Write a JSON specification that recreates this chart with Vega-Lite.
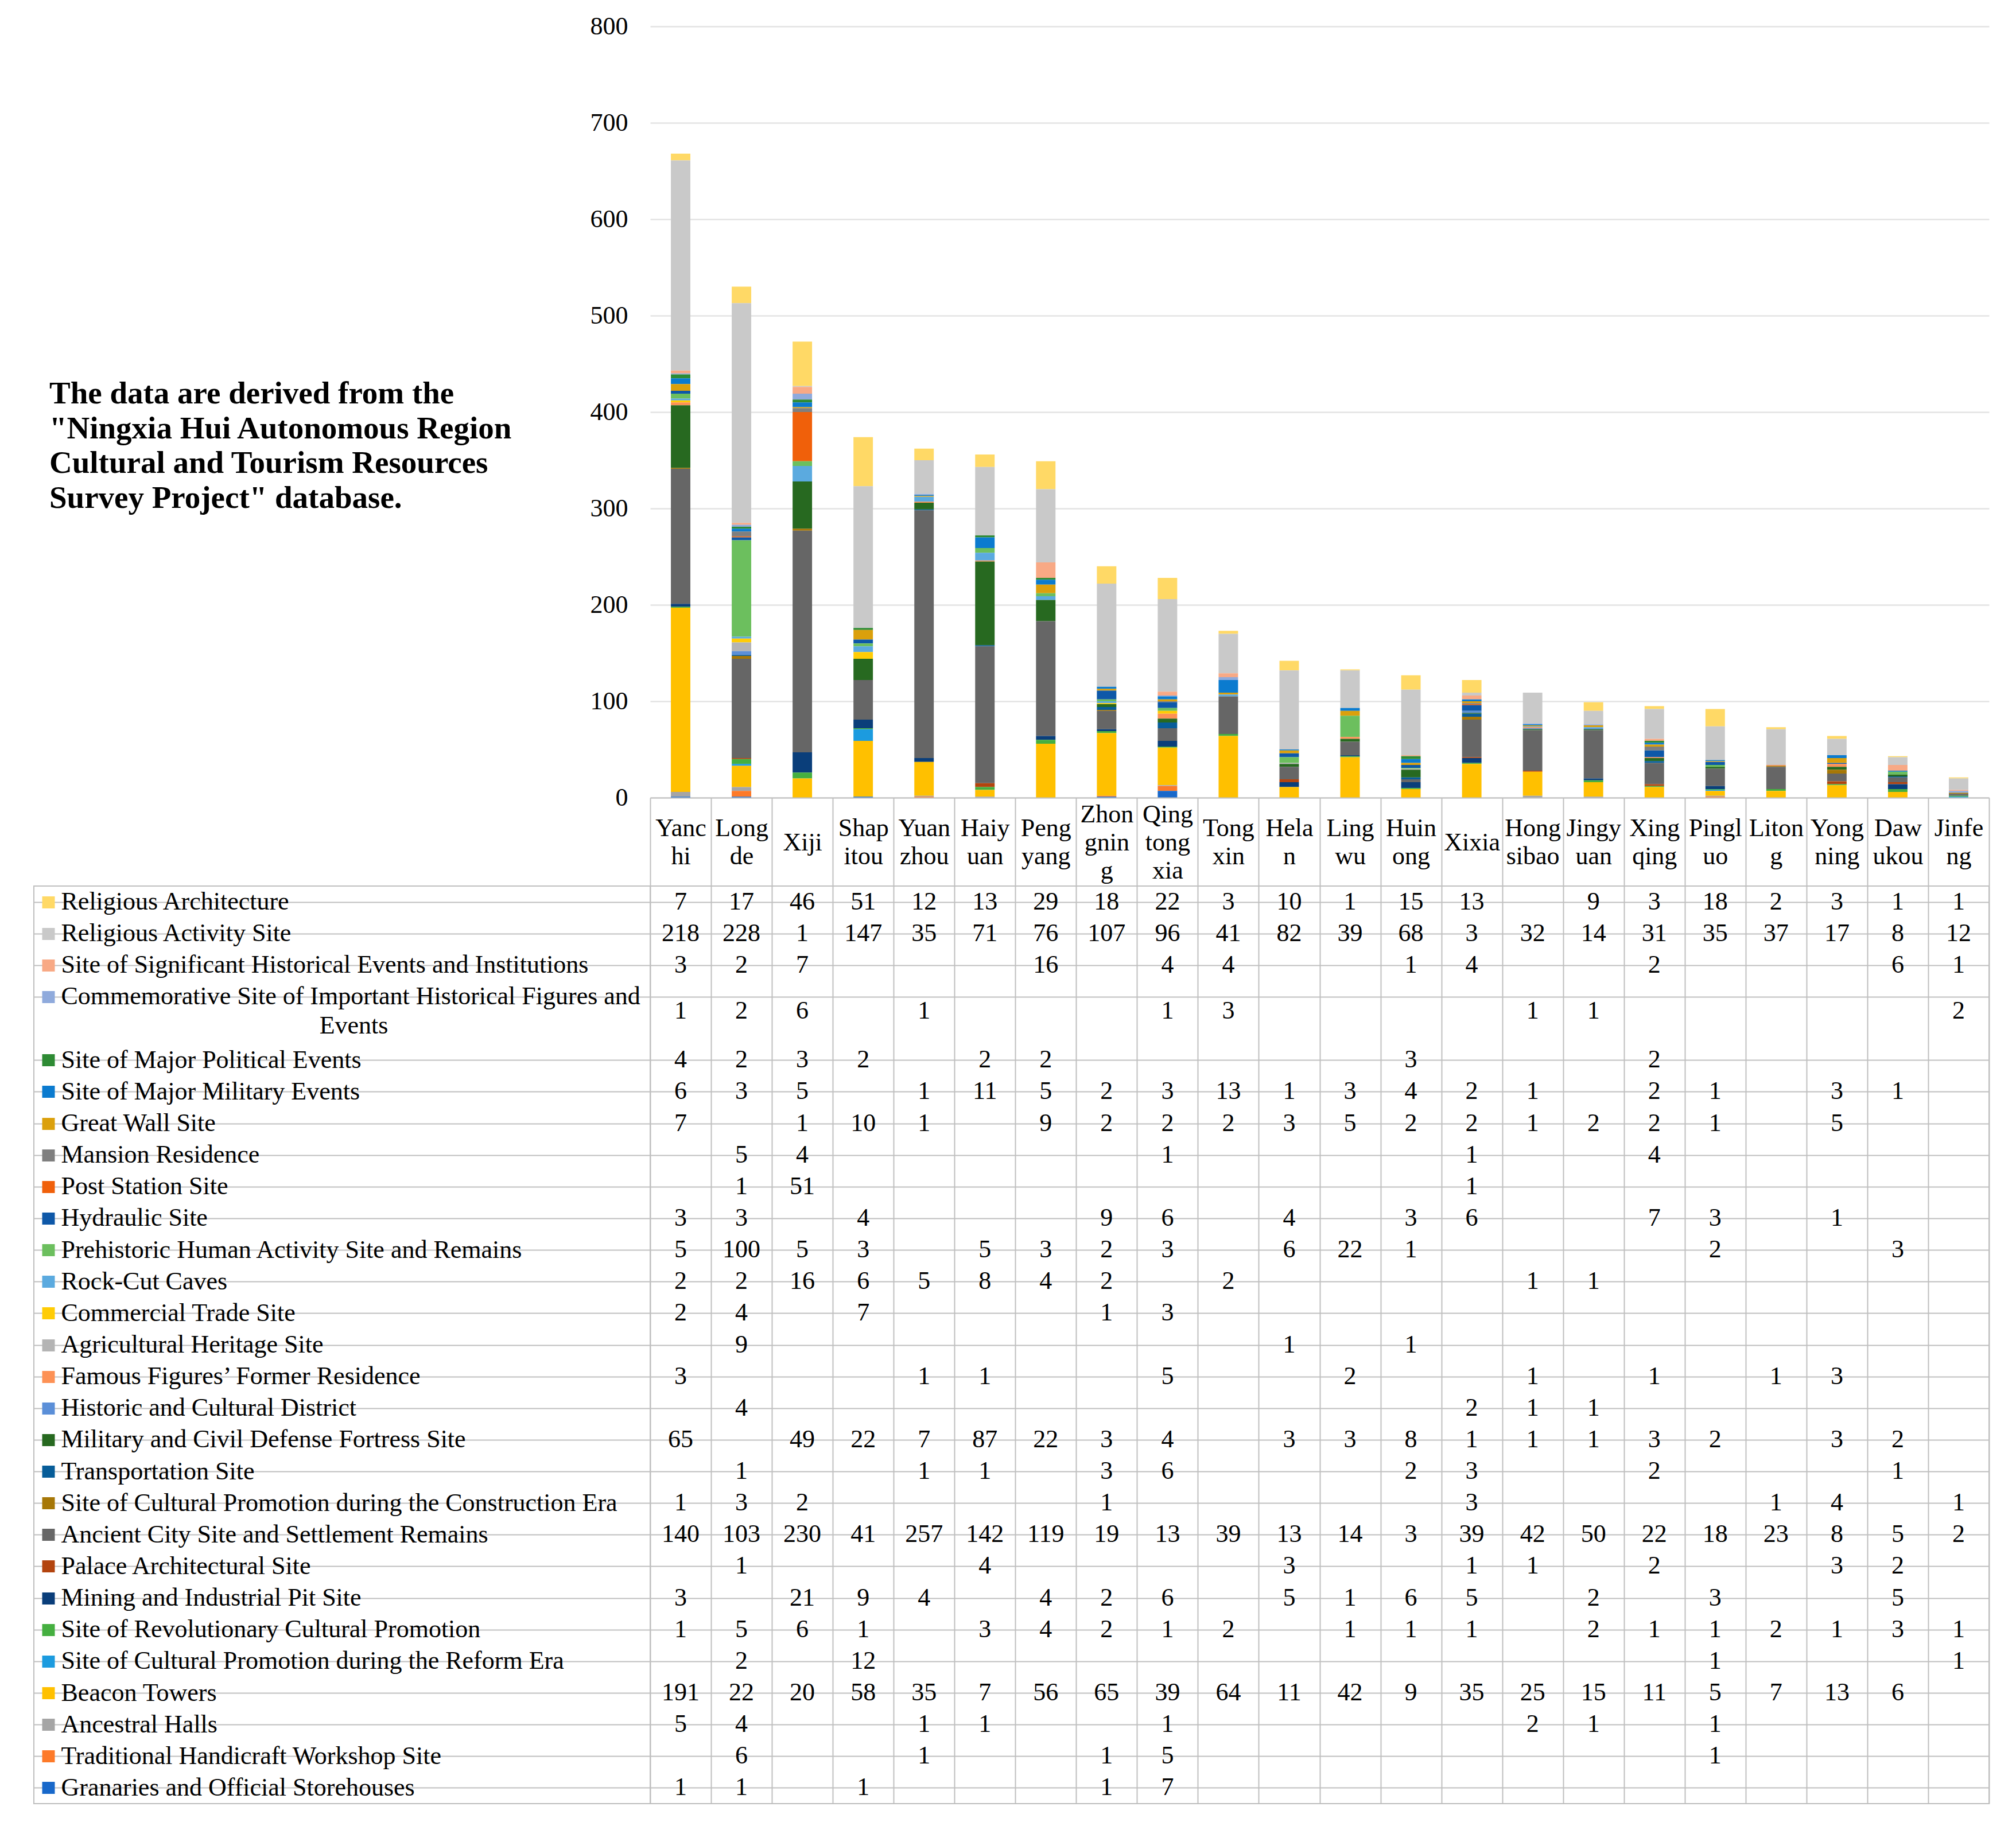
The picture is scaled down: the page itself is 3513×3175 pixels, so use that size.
{
  "$schema": "https://vega.github.io/schema/vega-lite/v6.json",
  "padding": {"left": 58, "top": 24, "right": 20, "bottom": 20},
  "background": "white",
  "bounds": "flush",
  "columns": 2,
  "spacing": {"row": 154, "column": 0},
  "datasets": {
    "table": [
      {"category": "Religious Architecture", "Yanchi": 7, "Longde": 17, "Xiji": 46, "Shapitou": 51, "Yuanzhou": 12, "Haiyuan": 13, "Pengyang": 29, "Zhongning": 18, "Qingtongxia": 22, "Tongxin": 3, "Helan": 10, "Lingwu": 1, "Huinong": 15, "Xixia": 13, "Jingyuan": 9, "Xingqing": 3, "Pingluo": 18, "Litong": 2, "Yongning": 3, "Dawukou": 1, "Jinfeng": 1},
      {"category": "Religious Activity Site", "Yanchi": 218, "Longde": 228, "Xiji": 1, "Shapitou": 147, "Yuanzhou": 35, "Haiyuan": 71, "Pengyang": 76, "Zhongning": 107, "Qingtongxia": 96, "Tongxin": 41, "Helan": 82, "Lingwu": 39, "Huinong": 68, "Xixia": 3, "Hongsibao": 32, "Jingyuan": 14, "Xingqing": 31, "Pingluo": 35, "Litong": 37, "Yongning": 17, "Dawukou": 8, "Jinfeng": 12},
      {"category": "Site of Significant Historical Events and Institutions", "Yanchi": 3, "Longde": 2, "Xiji": 7, "Pengyang": 16, "Qingtongxia": 4, "Tongxin": 4, "Huinong": 1, "Xixia": 4, "Xingqing": 2, "Dawukou": 6, "Jinfeng": 1},
      {"category": "Commemorative Site of Important Historical Figures and Events", "Yanchi": 1, "Longde": 2, "Xiji": 6, "Yuanzhou": 1, "Qingtongxia": 1, "Tongxin": 3, "Hongsibao": 1, "Jingyuan": 1, "Jinfeng": 2},
      {"category": "Site of Major Political Events", "Yanchi": 4, "Longde": 2, "Xiji": 3, "Shapitou": 2, "Haiyuan": 2, "Pengyang": 2, "Huinong": 3, "Xingqing": 2},
      {"category": "Site of Major Military Events", "Yanchi": 6, "Longde": 3, "Xiji": 5, "Yuanzhou": 1, "Haiyuan": 11, "Pengyang": 5, "Zhongning": 2, "Qingtongxia": 3, "Tongxin": 13, "Helan": 1, "Lingwu": 3, "Huinong": 4, "Xixia": 2, "Hongsibao": 1, "Xingqing": 2, "Pingluo": 1, "Yongning": 3, "Dawukou": 1},
      {"category": "Great Wall Site", "Yanchi": 7, "Xiji": 1, "Shapitou": 10, "Yuanzhou": 1, "Pengyang": 9, "Zhongning": 2, "Qingtongxia": 2, "Tongxin": 2, "Helan": 3, "Lingwu": 5, "Huinong": 2, "Xixia": 2, "Hongsibao": 1, "Jingyuan": 2, "Xingqing": 2, "Pingluo": 1, "Yongning": 5},
      {"category": "Mansion Residence", "Longde": 5, "Xiji": 4, "Qingtongxia": 1, "Xixia": 1, "Xingqing": 4},
      {"category": "Post Station Site", "Longde": 1, "Xiji": 51, "Xixia": 1},
      {"category": "Hydraulic Site", "Yanchi": 3, "Longde": 3, "Shapitou": 4, "Zhongning": 9, "Qingtongxia": 6, "Helan": 4, "Huinong": 3, "Xixia": 6, "Xingqing": 7, "Pingluo": 3, "Yongning": 1},
      {"category": "Prehistoric Human Activity Site and Remains", "Yanchi": 5, "Longde": 100, "Xiji": 5, "Shapitou": 3, "Haiyuan": 5, "Pengyang": 3, "Zhongning": 2, "Qingtongxia": 3, "Helan": 6, "Lingwu": 22, "Huinong": 1, "Pingluo": 2, "Dawukou": 3},
      {"category": "Rock-Cut Caves", "Yanchi": 2, "Longde": 2, "Xiji": 16, "Shapitou": 6, "Yuanzhou": 5, "Haiyuan": 8, "Pengyang": 4, "Zhongning": 2, "Tongxin": 2, "Hongsibao": 1, "Jingyuan": 1},
      {"category": "Commercial Trade Site", "Yanchi": 2, "Longde": 4, "Shapitou": 7, "Zhongning": 1, "Qingtongxia": 3},
      {"category": "Agricultural Heritage Site", "Longde": 9, "Helan": 1, "Huinong": 1},
      {"category": "Famous Figures’ Former Residence", "Yanchi": 3, "Yuanzhou": 1, "Haiyuan": 1, "Qingtongxia": 5, "Lingwu": 2, "Hongsibao": 1, "Xingqing": 1, "Litong": 1, "Yongning": 3},
      {"category": "Historic and Cultural District", "Longde": 4, "Xixia": 2, "Hongsibao": 1, "Jingyuan": 1},
      {"category": "Military and Civil Defense Fortress Site", "Yanchi": 65, "Xiji": 49, "Shapitou": 22, "Yuanzhou": 7, "Haiyuan": 87, "Pengyang": 22, "Zhongning": 3, "Qingtongxia": 4, "Helan": 3, "Lingwu": 3, "Huinong": 8, "Xixia": 1, "Hongsibao": 1, "Jingyuan": 1, "Xingqing": 3, "Pingluo": 2, "Yongning": 3, "Dawukou": 2},
      {"category": "Transportation Site", "Longde": 1, "Yuanzhou": 1, "Haiyuan": 1, "Zhongning": 3, "Qingtongxia": 6, "Huinong": 2, "Xixia": 3, "Xingqing": 2, "Dawukou": 1},
      {"category": "Site of Cultural Promotion during the Construction Era", "Yanchi": 1, "Longde": 3, "Xiji": 2, "Zhongning": 1, "Xixia": 3, "Litong": 1, "Yongning": 4, "Jinfeng": 1},
      {"category": "Ancient City Site and Settlement Remains", "Yanchi": 140, "Longde": 103, "Xiji": 230, "Shapitou": 41, "Yuanzhou": 257, "Haiyuan": 142, "Pengyang": 119, "Zhongning": 19, "Qingtongxia": 13, "Tongxin": 39, "Helan": 13, "Lingwu": 14, "Huinong": 3, "Xixia": 39, "Hongsibao": 42, "Jingyuan": 50, "Xingqing": 22, "Pingluo": 18, "Litong": 23, "Yongning": 8, "Dawukou": 5, "Jinfeng": 2},
      {"category": "Palace Architectural Site", "Longde": 1, "Haiyuan": 4, "Helan": 3, "Xixia": 1, "Hongsibao": 1, "Xingqing": 2, "Yongning": 3, "Dawukou": 2},
      {"category": "Mining and Industrial Pit Site", "Yanchi": 3, "Xiji": 21, "Shapitou": 9, "Yuanzhou": 4, "Pengyang": 4, "Zhongning": 2, "Qingtongxia": 6, "Helan": 5, "Lingwu": 1, "Huinong": 6, "Xixia": 5, "Jingyuan": 2, "Pingluo": 3, "Dawukou": 5},
      {"category": "Site of Revolutionary Cultural Promotion", "Yanchi": 1, "Longde": 5, "Xiji": 6, "Shapitou": 1, "Haiyuan": 3, "Pengyang": 4, "Zhongning": 2, "Qingtongxia": 1, "Tongxin": 2, "Lingwu": 1, "Huinong": 1, "Xixia": 1, "Jingyuan": 2, "Xingqing": 1, "Pingluo": 1, "Litong": 2, "Yongning": 1, "Dawukou": 3, "Jinfeng": 1},
      {"category": "Site of Cultural Promotion during the Reform Era", "Longde": 2, "Shapitou": 12, "Pingluo": 1, "Jinfeng": 1},
      {"category": "Beacon Towers", "Yanchi": 191, "Longde": 22, "Xiji": 20, "Shapitou": 58, "Yuanzhou": 35, "Haiyuan": 7, "Pengyang": 56, "Zhongning": 65, "Qingtongxia": 39, "Tongxin": 64, "Helan": 11, "Lingwu": 42, "Huinong": 9, "Xixia": 35, "Hongsibao": 25, "Jingyuan": 15, "Xingqing": 11, "Pingluo": 5, "Litong": 7, "Yongning": 13, "Dawukou": 6},
      {"category": "Ancestral Halls", "Yanchi": 5, "Longde": 4, "Yuanzhou": 1, "Haiyuan": 1, "Qingtongxia": 1, "Hongsibao": 2, "Jingyuan": 1, "Pingluo": 1},
      {"category": "Traditional Handicraft Workshop Site", "Longde": 6, "Yuanzhou": 1, "Zhongning": 1, "Qingtongxia": 5, "Pingluo": 1},
      {"category": "Granaries and Official Storehouses", "Yanchi": 1, "Longde": 1, "Shapitou": 1, "Zhongning": 1, "Qingtongxia": 7}
    ]
  },
  "concat": [
    {
      "width": 1074,
      "height": 614,
      "data": {"values": [{"note": ""}]},
      "mark": {"type": "text"},
      "encoding": {"text": {"field": "note", "type": "nominal"}},
      "title": {
        "text": ["The data are derived from the", "\"Ningxia Hui Autonomous Region", "Cultural and Tourism Resources", "Survey Project\" database."],
        "orient": "bottom",
        "anchor": "start",
        "frame": "group",
        "align": "left",
        "baseline": "top",
        "offset": 0,
        "dx": 27,
        "font": "Liberation Serif",
        "fontSize": 55,
        "fontWeight": "bold",
        "color": "black",
        "lineHeight": 60.5
      }
    },
    {
      "width": 2333,
      "height": 1344,
      "data": {"name": "table"},
      "transform": [
        {"fold": ["Yanchi", "Longde", "Xiji", "Shapitou", "Yuanzhou", "Haiyuan", "Pengyang", "Zhongning", "Qingtongxia", "Tongxin", "Helan", "Lingwu", "Huinong", "Xixia", "Hongsibao", "Jingyuan", "Xingqing", "Pingluo", "Litong", "Yongning", "Dawukou", "Jinfeng"], "as": ["county", "value"]},
        {"filter": "isValid(datum.value)"},
        {"window": [{"op": "row_number", "as": "rank"}], "groupby": ["county"]}
      ],
      "mark": {"type": "bar"},
      "encoding": {
        "x": {
          "field": "county", "type": "nominal",
          "scale": {"domain": ["Yanchi", "Longde", "Xiji", "Shapitou", "Yuanzhou", "Haiyuan", "Pengyang", "Zhongning", "Qingtongxia", "Tongxin", "Helan", "Lingwu", "Huinong", "Xixia", "Hongsibao", "Jingyuan", "Xingqing", "Pingluo", "Litong", "Yongning", "Dawukou", "Jinfeng"], "paddingInner": 0.68, "paddingOuter": 0.34},
          "axis": {"title": null, "labels": false, "ticks": false, "domain": true, "domainColor": "#BFBFBF", "domainWidth": 2, "grid": false, "zindex": 2}
        },
        "y": {
          "field": "value", "type": "quantitative", "stack": "zero",
          "scale": {"domain": [0, 800], "nice": false},
          "axis": {"title": null, "values": [0, 100, 200, 300, 400, 500, 600, 700, 800], "domain": false, "ticks": false, "grid": true, "gridColor": "#E3E3E3", "gridWidth": 2.5, "labelFont": "Liberation Serif", "labelFontSize": 44, "labelColor": "black", "labelPadding": 39}
        },
        "color": {
          "field": "category", "type": "nominal", "legend": null,
          "scale": {
            "domain": ["Religious Architecture", "Religious Activity Site", "Site of Significant Historical Events and Institutions", "Commemorative Site of Important Historical Figures and Events", "Site of Major Political Events", "Site of Major Military Events", "Great Wall Site", "Mansion Residence", "Post Station Site", "Hydraulic Site", "Prehistoric Human Activity Site and Remains", "Rock-Cut Caves", "Commercial Trade Site", "Agricultural Heritage Site", "Famous Figures’ Former Residence", "Historic and Cultural District", "Military and Civil Defense Fortress Site", "Transportation Site", "Site of Cultural Promotion during the Construction Era", "Ancient City Site and Settlement Remains", "Palace Architectural Site", "Mining and Industrial Pit Site", "Site of Revolutionary Cultural Promotion", "Site of Cultural Promotion during the Reform Era", "Beacon Towers", "Ancestral Halls", "Traditional Handicraft Workshop Site", "Granaries and Official Storehouses"],
            "range": ["#FFD966", "#C9C9C9", "#F8A985", "#8FAADC", "#2E8B34", "#0B7BCF", "#DBA00C", "#7F7F7F", "#F0600A", "#0E58A8", "#6CBF5E", "#5BAADF", "#FFCC05", "#B4B4B4", "#FD9155", "#5B8FD8", "#276920", "#075D99", "#A67707", "#666666", "#B3440E", "#0A3E7A", "#45AF40", "#1C9BDF", "#FFC000", "#A5A5A5", "#FD7A29", "#1868CA"]
          }
        },
        "order": {"field": "rank", "type": "quantitative", "sort": "descending"}
      }
    },
    {
      "width": 1074,
      "height": 1599,
      "data": {"name": "table"},
      "view": {"stroke": "#BFBFBF", "strokeWidth": 2},
      "encoding": {
        "x": {"field": "category", "type": "nominal", "axis": null}
      },
      "layer": [
        {
          "mark": {"type": "text", "text": ""},
          "encoding": {
            "y": {
              "field": "category", "type": "nominal",
              "scale": {"domain": ["Religious Architecture", "Religious Activity Site", "Site of Significant Historical Events and Institutions", "Commemorative Site of Important Historical Figures and Events", "__slot", "Site of Major Political Events", "Site of Major Military Events", "Great Wall Site", "Mansion Residence", "Post Station Site", "Hydraulic Site", "Prehistoric Human Activity Site and Remains", "Rock-Cut Caves", "Commercial Trade Site", "Agricultural Heritage Site", "Famous Figures’ Former Residence", "Historic and Cultural District", "Military and Civil Defense Fortress Site", "Transportation Site", "Site of Cultural Promotion during the Construction Era", "Ancient City Site and Settlement Remains", "Palace Architectural Site", "Mining and Industrial Pit Site", "Site of Revolutionary Cultural Promotion", "Site of Cultural Promotion during the Reform Era", "Beacon Towers", "Ancestral Halls", "Traditional Handicraft Workshop Site", "Granaries and Official Storehouses"], "paddingInner": 0, "paddingOuter": 0},
              "axis": {"orient": "left", "title": null, "labels": false, "ticks": false, "domain": false, "grid": true, "bandPosition": 0, "gridColor": "#BFBFBF", "gridWidth": 2, "gridOpacity": {"condition": {"test": "datum.value === '__slot'", "value": 0}, "value": 1}}
            }
          }
        },
        {
          "mark": {"type": "text", "text": ""},
          "encoding": {
            "y": {
              "field": "category", "type": "nominal",
              "scale": {"domain": ["Religious Architecture", "Religious Activity Site", "Site of Significant Historical Events and Institutions", "Commemorative Site of Important Historical Figures and Events", "__slot", "Site of Major Political Events", "Site of Major Military Events", "Great Wall Site", "Mansion Residence", "Post Station Site", "Hydraulic Site", "Prehistoric Human Activity Site and Remains", "Rock-Cut Caves", "Commercial Trade Site", "Agricultural Heritage Site", "Famous Figures’ Former Residence", "Historic and Cultural District", "Military and Civil Defense Fortress Site", "Transportation Site", "Site of Cultural Promotion during the Construction Era", "Ancient City Site and Settlement Remains", "Palace Architectural Site", "Mining and Industrial Pit Site", "Site of Revolutionary Cultural Promotion", "Site of Cultural Promotion during the Reform Era", "Beacon Towers", "Ancestral Halls", "Traditional Handicraft Workshop Site", "Granaries and Official Storehouses"], "paddingInner": 0, "paddingOuter": 0},
              "axis": {
                "orient": "right", "offset": -1060, "title": null, "domain": false, "grid": false,
                "ticks": true, "tickSize": 22, "tickWidth": 21,
                "tickColor": {"condition": [
                  {"test": "datum.value === 'Religious Architecture'", "value": "#FFD966"},
                  {"test": "datum.value === 'Religious Activity Site'", "value": "#C9C9C9"},
                  {"test": "datum.value === 'Site of Significant Historical Events and Institutions'", "value": "#F8A985"},
                  {"test": "datum.value === 'Commemorative Site of Important Historical Figures and Events'", "value": "#8FAADC"},
                  {"test": "datum.value === 'Site of Major Political Events'", "value": "#2E8B34"},
                  {"test": "datum.value === 'Site of Major Military Events'", "value": "#0B7BCF"},
                  {"test": "datum.value === 'Great Wall Site'", "value": "#DBA00C"},
                  {"test": "datum.value === 'Mansion Residence'", "value": "#7F7F7F"},
                  {"test": "datum.value === 'Post Station Site'", "value": "#F0600A"},
                  {"test": "datum.value === 'Hydraulic Site'", "value": "#0E58A8"},
                  {"test": "datum.value === 'Prehistoric Human Activity Site and Remains'", "value": "#6CBF5E"},
                  {"test": "datum.value === 'Rock-Cut Caves'", "value": "#5BAADF"},
                  {"test": "datum.value === 'Commercial Trade Site'", "value": "#FFCC05"},
                  {"test": "datum.value === 'Agricultural Heritage Site'", "value": "#B4B4B4"},
                  {"test": "datum.value === 'Famous Figures’ Former Residence'", "value": "#FD9155"},
                  {"test": "datum.value === 'Historic and Cultural District'", "value": "#5B8FD8"},
                  {"test": "datum.value === 'Military and Civil Defense Fortress Site'", "value": "#276920"},
                  {"test": "datum.value === 'Transportation Site'", "value": "#075D99"},
                  {"test": "datum.value === 'Site of Cultural Promotion during the Construction Era'", "value": "#A67707"},
                  {"test": "datum.value === 'Ancient City Site and Settlement Remains'", "value": "#666666"},
                  {"test": "datum.value === 'Palace Architectural Site'", "value": "#B3440E"},
                  {"test": "datum.value === 'Mining and Industrial Pit Site'", "value": "#0A3E7A"},
                  {"test": "datum.value === 'Site of Revolutionary Cultural Promotion'", "value": "#45AF40"},
                  {"test": "datum.value === 'Site of Cultural Promotion during the Reform Era'", "value": "#1C9BDF"},
                  {"test": "datum.value === 'Beacon Towers'", "value": "#FFC000"},
                  {"test": "datum.value === 'Ancestral Halls'", "value": "#A5A5A5"},
                  {"test": "datum.value === 'Traditional Handicraft Workshop Site'", "value": "#FD7A29"},
                  {"test": "datum.value === 'Granaries and Official Storehouses'", "value": "#1868CA"}
                ], "value": "transparent"},
                "labelExpr": "datum.value === '__slot' ? 'Events' : (datum.value === 'Commemorative Site of Important Historical Figures and Events' ? 'Commemorative Site of Important Historical Figures and' : datum.label)",
                "labelFont": "Liberation Serif", "labelFontSize": 44, "labelColor": "black", "labelLimit": 0, "labelOverlap": false, "labelBaseline": "middle",
                "labelOffset": {"condition": {"test": "datum.value === '__slot'", "value": -5}, "value": 0},
                "labelPadding": {"condition": {"test": "datum.value === '__slot'", "value": 521}, "value": 11},
                "labelAlign": {"condition": {"test": "datum.value === '__slot'", "value": "center"}, "value": "left"}
              }
            }
          }
        }
      ],
      "resolve": {"axis": {"y": "independent"}}
    },
    {
      "width": 2333,
      "height": 1599,
      "data": {"name": "table"},
      "view": {"stroke": "#BFBFBF", "strokeWidth": 2},
      "transform": [
        {"fold": ["Yanchi", "Longde", "Xiji", "Shapitou", "Yuanzhou", "Haiyuan", "Pengyang", "Zhongning", "Qingtongxia", "Tongxin", "Helan", "Lingwu", "Huinong", "Xixia", "Hongsibao", "Jingyuan", "Xingqing", "Pingluo", "Litong", "Yongning", "Dawukou", "Jinfeng"], "as": ["county", "value"]},
        {"filter": "isValid(datum.value)"}
      ],
      "encoding": {
        "x": {
          "field": "county", "type": "nominal",
          "scale": {"domain": ["Yanchi", "Longde", "Xiji", "Shapitou", "Yuanzhou", "Haiyuan", "Pengyang", "Zhongning", "Qingtongxia", "Tongxin", "Helan", "Lingwu", "Huinong", "Xixia", "Hongsibao", "Jingyuan", "Xingqing", "Pingluo", "Litong", "Yongning", "Dawukou", "Jinfeng"], "paddingInner": 0, "paddingOuter": 0},
          "axis": {
            "orient": "top", "title": null, "domain": false,
            "ticks": true, "tickBand": "extent", "tickSize": 154, "tickColor": "#BFBFBF", "tickWidth": 2,
            "grid": true, "gridColor": "#BFBFBF", "gridWidth": 2,
            "labelExpr": "({'Yanchi':['Yanc','hi'],'Longde':['Long','de'],'Xiji':'Xiji','Shapitou':['Shap','itou'],'Yuanzhou':['Yuan','zhou'],'Haiyuan':['Haiy','uan'],'Pengyang':['Peng','yang'],'Zhongning':['Zhon','gnin','g'],'Qingtongxia':['Qing','tong','xia'],'Tongxin':['Tong','xin'],'Helan':['Hela','n'],'Lingwu':['Ling','wu'],'Huinong':['Huin','ong'],'Xixia':'Xixia','Hongsibao':['Hong','sibao'],'Jingyuan':['Jingy','uan'],'Xingqing':['Xing','qing'],'Pingluo':['Pingl','uo'],'Litong':['Liton','g'],'Yongning':['Yong','ning'],'Dawukou':['Daw','ukou'],'Jinfeng':['Jinfe','ng']})[datum.value]",
            "labelFont": "Liberation Serif", "labelFontSize": 44, "labelLineHeight": 49, "labelBaseline": "middle",
            "labelPadding": {"condition": [
              {"test": "datum.value === 'Zhongning' || datum.value === 'Qingtongxia'", "value": -29},
              {"test": "datum.value === 'Xiji' || datum.value === 'Xixia'", "value": -78}
            ], "value": -53.5},
            "labelAngle": 0, "labelColor": "black", "labelLimit": 0, "labelOverlap": false
          }
        },
        "text": {"field": "value", "type": "quantitative", "format": "d"}
      },
      "layer": [
        {
          "transform": [{"filter": "datum.category !== 'Commemorative Site of Important Historical Figures and Events'"}],
          "mark": {"type": "text", "font": "Liberation Serif", "fontSize": 44, "baseline": "middle", "color": "black"},
          "encoding": {
            "y": {
              "field": "category", "type": "nominal",
              "scale": {"domain": ["Religious Architecture", "Religious Activity Site", "Site of Significant Historical Events and Institutions", "Commemorative Site of Important Historical Figures and Events", "__slot", "Site of Major Political Events", "Site of Major Military Events", "Great Wall Site", "Mansion Residence", "Post Station Site", "Hydraulic Site", "Prehistoric Human Activity Site and Remains", "Rock-Cut Caves", "Commercial Trade Site", "Agricultural Heritage Site", "Famous Figures’ Former Residence", "Historic and Cultural District", "Military and Civil Defense Fortress Site", "Transportation Site", "Site of Cultural Promotion during the Construction Era", "Ancient City Site and Settlement Remains", "Palace Architectural Site", "Mining and Industrial Pit Site", "Site of Revolutionary Cultural Promotion", "Site of Cultural Promotion during the Reform Era", "Beacon Towers", "Ancestral Halls", "Traditional Handicraft Workshop Site", "Granaries and Official Storehouses"], "paddingInner": 0, "paddingOuter": 0},
              "axis": {"orient": "left", "title": null, "labels": false, "ticks": false, "domain": false, "grid": true, "bandPosition": 0, "gridColor": "#BFBFBF", "gridWidth": 2, "gridOpacity": {"condition": {"test": "datum.value === '__slot'", "value": 0}, "value": 1}}
            }
          }
        },
        {
          "transform": [{"filter": "datum.category === 'Commemorative Site of Important Historical Figures and Events'"}],
          "mark": {"type": "text", "font": "Liberation Serif", "fontSize": 44, "baseline": "middle", "color": "black", "dy": 25},
          "encoding": {
            "y": {
              "field": "category", "type": "nominal",
              "scale": {"domain": ["Religious Architecture", "Religious Activity Site", "Site of Significant Historical Events and Institutions", "Commemorative Site of Important Historical Figures and Events", "__slot", "Site of Major Political Events", "Site of Major Military Events", "Great Wall Site", "Mansion Residence", "Post Station Site", "Hydraulic Site", "Prehistoric Human Activity Site and Remains", "Rock-Cut Caves", "Commercial Trade Site", "Agricultural Heritage Site", "Famous Figures’ Former Residence", "Historic and Cultural District", "Military and Civil Defense Fortress Site", "Transportation Site", "Site of Cultural Promotion during the Construction Era", "Ancient City Site and Settlement Remains", "Palace Architectural Site", "Mining and Industrial Pit Site", "Site of Revolutionary Cultural Promotion", "Site of Cultural Promotion during the Reform Era", "Beacon Towers", "Ancestral Halls", "Traditional Handicraft Workshop Site", "Granaries and Official Storehouses"], "paddingInner": 0, "paddingOuter": 0},
              "axis": {"orient": "left", "title": null, "labels": false, "ticks": false, "domain": false, "grid": true, "bandPosition": 0, "gridColor": "#BFBFBF", "gridWidth": 2, "gridOpacity": {"condition": {"test": "datum.value === '__slot'", "value": 0}, "value": 1}}
            }
          }
        }
      ]
    }
  ],
  "config": {
    "view": {"stroke": null},
    "text": {"font": "Liberation Serif"}
  }
}
